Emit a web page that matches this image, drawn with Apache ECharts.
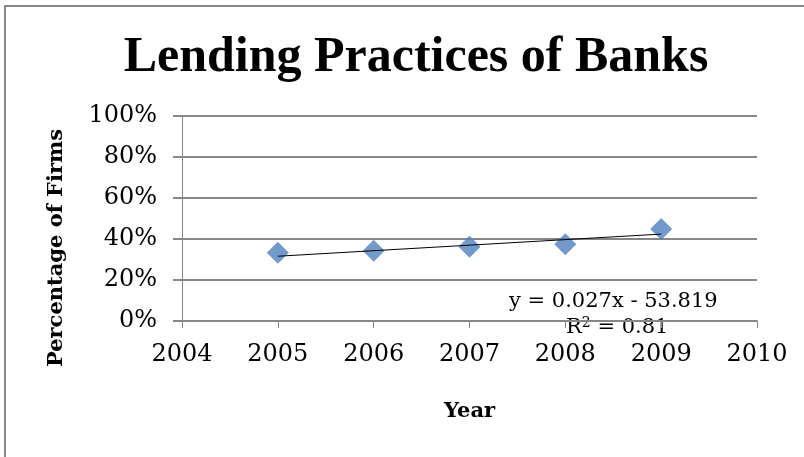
<!DOCTYPE html>
<html>
<head>
<meta charset="utf-8">
<script src="https://cdn.jsdelivr.net/npm/echarts@6/dist/echarts.min.js"></script>
<style>
  html, body { margin: 0; padding: 0; background: #fff; }
  #chart { width: 804px; height: 457px; }
</style>
</head>
<body>
<div id="chart"></div>
<script>
// Share of firms reporting tighter bank lending, by year
var years = [2005, 2006, 2007, 2008, 2009];
var shares = [0.333, 0.343, 0.362, 0.374, 0.449];

// Linear trendline reported in the chart
var trendSlope = 0.027;
var trendIntercept = -53.819;
var trendLabel = 'y = 0.027x - 53.819';
var r2Value = '0.81';

var xTicks = { min: 2004, max: 2010, step: 1 };
var yTicks = { min: 0, max: 1, step: 0.2 };

var points = years.map(function (y, i) { return [y, shares[i]]; });
var trendStart = years[0], trendEnd = years[years.length - 1];
var trend = [
  [trendStart, trendSlope * trendStart + trendIntercept],
  [trendEnd, trendSlope * trendEnd + trendIntercept]
];

var serif = '"DejaVu Serif", "Liberation Serif", serif';
var grey = '#878787';

var chart = echarts.init(document.getElementById('chart'), null, { renderer: 'canvas' });
chart.setOption({
  animation: false,
  backgroundColor: '#fff',
  title: {
    text: 'Lending Practices of Banks',
    left: 411, top: 28, textAlign: 'center',
    textStyle: { fontFamily: '"Liberation Serif", serif', fontWeight: 'bold', fontSize: 50, color: '#000' }
  },
  grid: { left: 182, right: 47, top: 116, bottom: 136 },
  xAxis: {
    type: 'value',
    min: xTicks.min, max: xTicks.max, interval: xTicks.step,
    name: 'Year', nameLocation: 'middle', nameGap: 80,
    nameTextStyle: { fontFamily: serif, fontWeight: 'bold', fontSize: 21, color: '#000' },
    axisLine: { show: true, onZero: false, lineStyle: { color: grey, width: 2 } },
    axisTick: { show: true, length: 7, lineStyle: { color: grey, width: 1 } },
    axisLabel: { fontFamily: serif, fontSize: 24, color: '#000', margin: 22,
      formatter: function (v) { return String(v); } },
    splitLine: { show: false }
  },
  yAxis: {
    type: 'value',
    min: yTicks.min, max: yTicks.max, interval: yTicks.step,
    axisLine: { show: true, lineStyle: { color: grey, width: 1 } },
    axisTick: { show: true, length: 9, lineStyle: { color: grey, width: 2 } },
    axisLabel: { fontFamily: serif, fontSize: 24, color: '#000', margin: 25,
      formatter: function (v) { return Math.round(v * 100) + '%'; } },
    splitLine: { show: true, lineStyle: { color: grey, width: 2 } }
  },
  series: [
    {
      type: 'scatter',
      data: points,
      symbol: 'diamond',
      symbolSize: 22,
      itemStyle: { color: '#4F81BD' },
      z: 3
    },
    {
      type: 'line',
      data: trend,
      symbol: 'none',
      lineStyle: { color: '#000', width: 1 },
      z: 4
    }
  ],
  graphic: [
    { type: 'rect', shape: { x: 4, y: 5, width: 800, height: 2 }, style: { fill: grey }, silent: true },
    { type: 'rect', shape: { x: 4, y: 5, width: 2, height: 452 }, style: { fill: grey }, silent: true },
    // vertical axis title
    { type: 'text', x: 57, y: 248, rotation: Math.PI / 2,
      style: { text: 'Percentage of Firms', fontFamily: serif, fontWeight: 'bold', fontSize: 21,
        fill: '#000', align: 'center', verticalAlign: 'middle' } },
    // trendline equation and fit
    { type: 'text', left: 509, top: 291,
      style: { text: trendLabel, fontFamily: serif, fontSize: 21, fill: '#000' } },
    { type: 'text', left: 566, top: 316,
      style: {
        text: 'R{sup|2} = ' + r2Value,
        fontFamily: serif, fontSize: 21, fill: '#000',
        rich: {
          sup: { fontFamily: serif, fontSize: 14, fill: '#000', padding: [0, 0, 10, 0] }
        }
      } }
  ]
});
</script>
</body>
</html>
